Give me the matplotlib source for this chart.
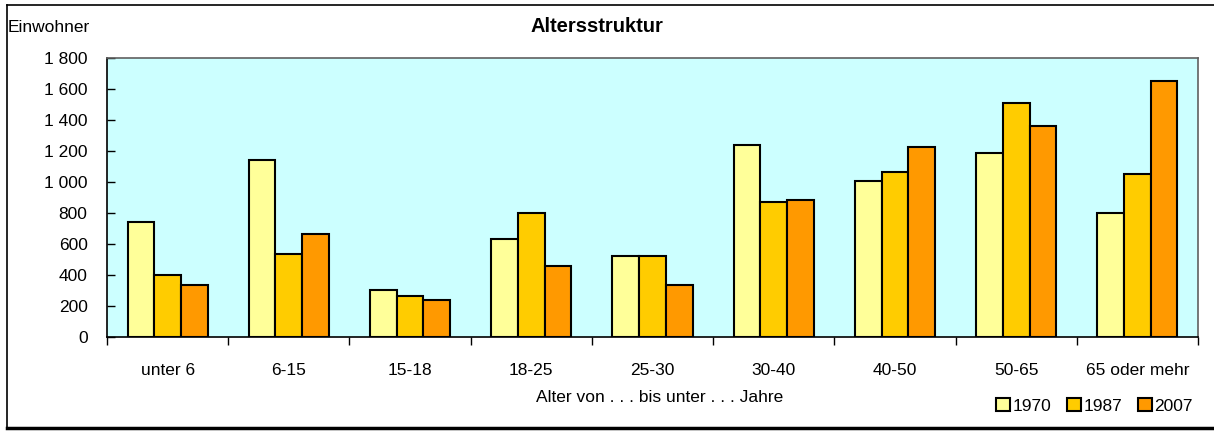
import numpy as np
import matplotlib
matplotlib.use("Agg")
import matplotlib.pyplot as plt
from matplotlib.lines import Line2D
from matplotlib.patches import Patch
from matplotlib.ticker import FuncFormatter

plt.rcParams['font.family'] = ['Liberation Sans', 'DejaVu Sans']

# data
categories = ['unter 6', '6-15', '15-18', '18-25', '25-30', '30-40', '40-50', '50-65', '65 oder mehr']
years = ['1970', '1987', '2007']
v1970 = [740, 1142, 301, 630, 520, 1239, 1008, 1189, 800]
v1987 = [398, 535, 265, 802, 520, 871, 1067, 1508, 1054]
v2007 = [337, 667, 241, 460, 337, 886, 1226, 1361, 1654]
colors = ['#FFFF99', '#FFCC00', '#FF9900']

W, H = 1214, 432
fig = plt.figure(figsize=(W / 100, H / 100), dpi=100)
ax = fig.add_axes([107 / W, 1 - 337 / H, (1198 - 107) / W, (337 - 58) / H])
ax.set_facecolor('#CCFFFF')

fs = 12.5
x = np.arange(len(categories)) + 0.5
bw = 0.22
for i, (vals, c) in enumerate(zip([v1970, v1987, v2007], colors)):
    ax.bar(x + (i - 1) * bw, vals, width=bw, color=c, edgecolor='black', linewidth=1.5, zorder=3)

ax.set_xlim(0, len(categories))
ax.set_ylim(0, 1800)
ax.set_yticks(np.arange(0, 1801, 200))
ax.yaxis.set_major_formatter(FuncFormatter(lambda v, p: '{:,.0f}'.format(v).replace(',', ' ')))
ax.tick_params(axis='y', direction='in', length=6, width=1, pad=14, labelsize=fs)

ax.set_xticks(x)
ax.set_xticklabels(categories)
ax.set_xticks(np.arange(0, len(categories) + 1), minor=True)
ax.tick_params(axis='x', which='major', length=0, pad=19, labelsize=fs)
ax.tick_params(axis='x', which='minor', direction='out', length=6, width=1)

for s in ['left', 'bottom']:
    ax.spines[s].set_color('black')
    ax.spines[s].set_linewidth(1.2)
for s in ['top', 'right']:
    ax.spines[s].set_color('#606060')
    ax.spines[s].set_linewidth(1.2)

fig.text(597 / W, 1 - 27 / H, 'Altersstruktur', ha='center', va='center', fontsize=14.5, fontweight='bold')
fig.text(8 / W, 1 - 27 / H, 'Einwohner', ha='left', va='center', fontsize=fs)
fig.text(660 / W, 1 - 397 / H, 'Alter von . . . bis unter . . . Jahre', ha='center', va='center', fontsize=fs)

handles = [Patch(facecolor=c, edgecolor='black', linewidth=1.5) for c in colors]
fig.legend(handles, years, loc='center right', bbox_to_anchor=(1193 / W, 1 - 406 / H),
           ncol=3, frameon=False, fontsize=fs, handlelength=0.8, handleheight=0.8,
           handletextpad=0.15, columnspacing=0.9, borderaxespad=0, borderpad=0)

# outer chart border
fig.add_artist(Line2D([7 / W, 7 / W], [1 - 5 / H, 1 - 428 / H], color='black', lw=1.2))
fig.add_artist(Line2D([7 / W, 1.0], [1 - 5 / H, 1 - 5 / H], color='black', lw=1.2))
fig.add_artist(Line2D([7 / W, 1.0], [1 - 428 / H, 1 - 428 / H], color='black', lw=2.5))

fig.savefig('out.png', dpi=100)
